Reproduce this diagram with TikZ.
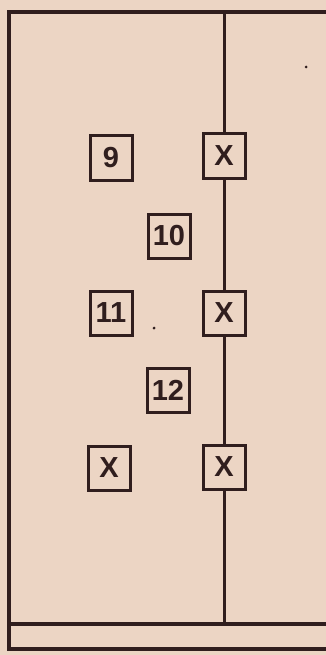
\documentclass[tikz,border=0pt]{standalone}
\usepackage{fontspec}
\setmainfont{Liberation Sans}
\definecolor{paper}{RGB}{236,213,196}
\definecolor{ink}{RGB}{48,30,30}
\begin{document}
\begin{tikzpicture}[x=1pt,y=-1pt,
  frame/.style={draw=ink,line width=3.4pt,line cap=rect},
  cell/.style={draw=ink,line width=3pt,fill=paper,text=ink,minimum width=42pt,minimum height=44pt,inner sep=0pt,font=\fontsize{29}{29}\selectfont\bfseries},
  speck/.style={fill=ink,circle,inner sep=0pt,minimum size=3pt}]
\fill[paper] (0,0) rectangle (326,655);
\useasboundingbox (0,0) rectangle (326,655);
% frame
\coordinate (tl) at (9,12);
\coordinate (tr) at (326,12);
\coordinate (bl) at (9,649);
\coordinate (br) at (326,649);
\coordinate (ml) at (9,624);
\coordinate (mr) at (326,624);
\coordinate (vt) at (224,12);
\coordinate (vb) at (224,624);
\draw[frame] (tr) -- (tl) -- (bl) -- (br);
\draw[frame] (ml) -- (mr);
% boxes
\node[cell] (n9) at (111,158) {9};
\node[cell] (x1) at (224,156) {X};
\node[cell] (n10) at (169,236) {10};
\node[cell] (n11) at (111,313) {11};
\node[cell] (x2) at (224,313) {X};
\node[cell] (n12) at (168,390) {12};
\node[cell] (x3) at (109,468) {X};
\node[cell] (x4) at (224,467) {X};
% vertical line through X boxes
\draw[frame,line width=3pt] (vt) -- (x1.north);
\draw[frame,line width=3pt] (x1.south) -- (x2.north);
\draw[frame,line width=3pt] (x2.south) -- (x4.north);
\draw[frame,line width=3pt] (x4.south) -- (vb);
% specks
\node[speck] (s1) at (306,67) {};
\node[speck] (s2) at (154,328) {};
\end{tikzpicture}
\end{document}
